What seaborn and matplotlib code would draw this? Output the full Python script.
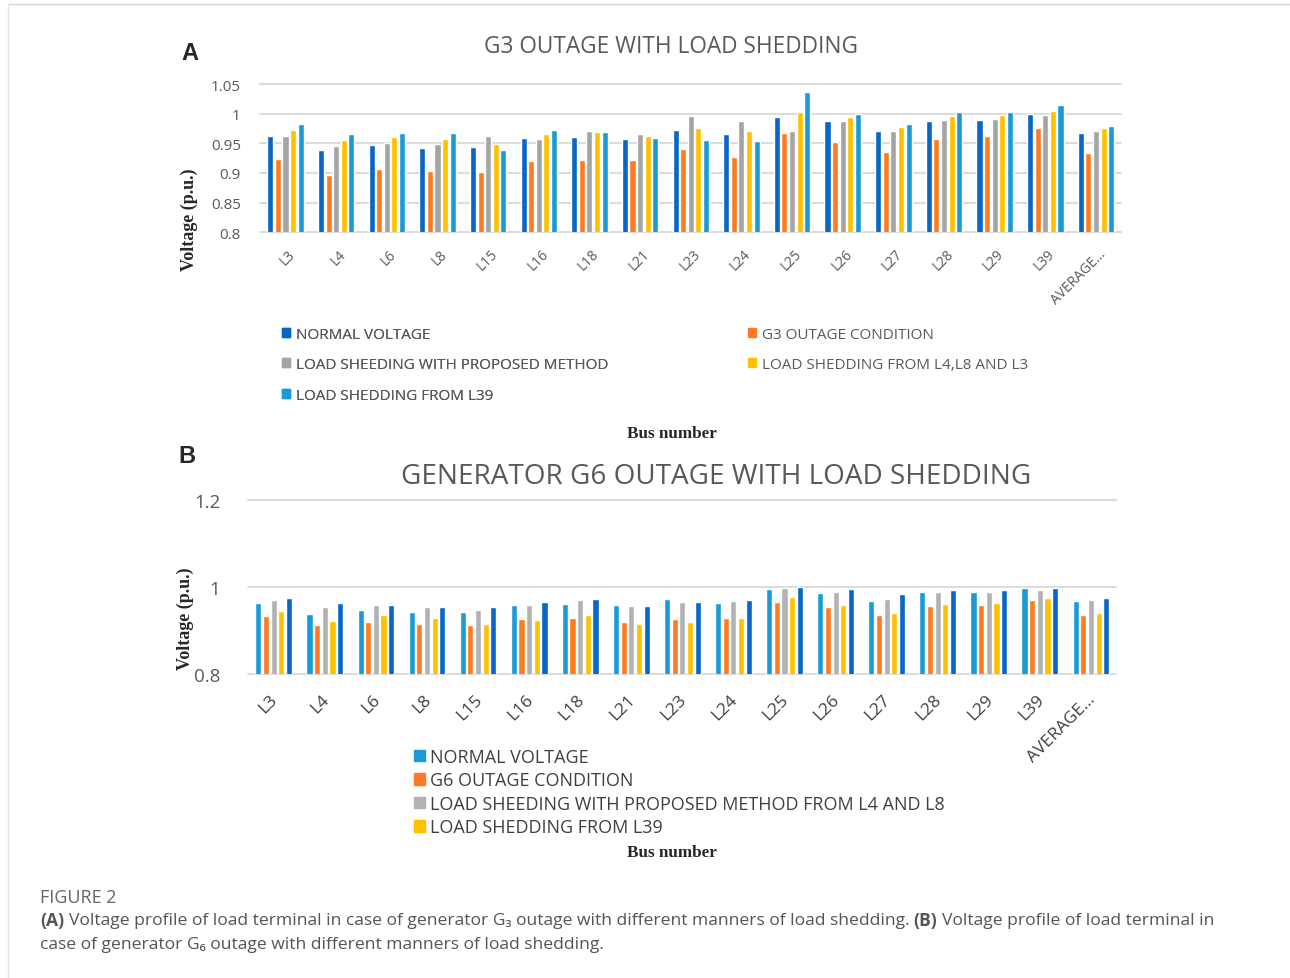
import numpy as np
import pandas as pd
import seaborn as sns
import matplotlib.pyplot as plt
import matplotlib.transforms as mtransforms
from matplotlib.patches import Patch

sns.set_style("white")
plt.rcParams['font.family'] = ['Open Sans', 'DejaVu Sans']

buses = ["L3", "L4", "L6", "L8", "L15", "L16", "L18", "L21", "L23", "L24",
         "L25", "L26", "L27", "L28", "L29", "L39", "AVERAGE..."]

# panel A : G3 outage
a_names = ["NORMAL VOLTAGE", "G3 OUTAGE CONDITION", "LOAD SHEEDING WITH PROPOSED METHOD",
           "LOAD SHEDDING FROM L4,L8 AND L3", "LOAD SHEDDING FROM L39"]
a_normal = [0.962, 0.939, 0.948, 0.942, 0.943, 0.959, 0.960, 0.957, 0.972, 0.965,
            0.994, 0.987, 0.970, 0.988, 0.989, 0.999, 0.967]
a_outage = [0.924, 0.897, 0.907, 0.904, 0.902, 0.921, 0.922, 0.922, 0.940, 0.927,
            0.968, 0.953, 0.935, 0.957, 0.962, 0.976, 0.933]
a_proposed = [0.963, 0.945, 0.951, 0.949, 0.962, 0.957, 0.971, 0.965, 0.996, 0.987,
              0.970, 0.988, 0.971, 0.989, 0.991, 0.997, 0.971]
a_l4l8l3 = [0.972, 0.956, 0.961, 0.958, 0.949, 0.965, 0.969, 0.962, 0.976, 0.970,
            1.003, 0.994, 0.977, 0.996, 0.997, 1.005, 0.976]
a_l39 = [0.983, 0.966, 0.968, 0.968, 0.939, 0.972, 0.969, 0.959, 0.956, 0.954,
         1.037, 1.000, 0.982, 1.002, 1.003, 1.015, 0.980]
a_colors = ["#0866C6", "#FF7A22", "#A5A5A5", "#FFC000", "#1A9BD7"]

# panel B : G6 outage (5th series not listed in the legend)
b_names = ["NORMAL VOLTAGE", "G6 OUTAGE CONDITION",
           "LOAD SHEEDING WITH PROPOSED METHOD FROM L4 AND L8", "LOAD SHEDDING FROM L39",
           "SERIES 5"]
b_normal = [0.963, 0.939, 0.948, 0.942, 0.944, 0.959, 0.961, 0.958, 0.972, 0.964,
            0.995, 0.986, 0.968, 0.988, 0.990, 0.998, 0.968]
b_outage = [0.934, 0.912, 0.921, 0.916, 0.913, 0.926, 0.930, 0.919, 0.928, 0.930,
            0.965, 0.954, 0.936, 0.957, 0.960, 0.970, 0.935]
b_proposed = [0.971, 0.955, 0.959, 0.955, 0.948, 0.959, 0.970, 0.957, 0.967, 0.969,
              0.998, 0.989, 0.973, 0.989, 0.990, 0.994, 0.971]
b_l39 = [0.946, 0.923, 0.935, 0.930, 0.916, 0.925, 0.937, 0.916, 0.921, 0.929,
         0.978, 0.960, 0.941, 0.961, 0.964, 0.975, 0.941]
b_fifth = [0.975, 0.964, 0.960, 0.955, 0.955, 0.965, 0.973, 0.957, 0.967, 0.970,
           1.001, 0.995, 0.984, 0.994, 0.994, 0.999, 0.975]
b_colors = ["#1A9BD7", "#FF7A22", "#B2B2B2", "#FFC000", "#0866C6"]

W, H = 1290, 979
GRAY = "#595959"


def long_df(names, series):
    return pd.DataFrame({
        "bus": np.tile(buses, len(names)),
        "series": np.repeat(names, len(buses)),
        "v": np.concatenate(series),
    })


def px(x, y):
    return x / W, 1 - y / H


fig = plt.figure(figsize=(W / 100, H / 100), dpi=100)

# ---------- panel A ----------
axA = fig.add_axes([260.2 / W, 1 - 233.3 / H, 861.1 / W, 148.3 / H])
dfA = long_df(a_names, [a_normal, a_outage, a_proposed, a_l4l8l3, a_l39])
sns.barplot(data=dfA, x="bus", y="v", hue="series", hue_order=a_names, palette=a_colors,
            saturation=1, width=0.75, gap=0.2, errorbar=None, legend=False, ax=axA)
axA.set_ylim(0.8, 1.05)
axA.set_yticks([0.8, 0.85, 0.9, 0.95, 1.0, 1.05])
axA.set_yticklabels(["0.8", "0.85", "0.9", "0.95", "1", "1.05"])
axA.tick_params(axis="y", labelsize=11, colors=GRAY, length=0, pad=14)
axA.set_xticks(range(len(buses)))
axA.set_xticklabels(buses, rotation=45, ha="right", rotation_mode="anchor")
axA.tick_params(axis="x", labelsize=10, colors=GRAY, length=0, pad=10)
offA = mtransforms.ScaledTranslation(2 / 100, 0, fig.dpi_scale_trans)
for lab in axA.get_xticklabels():
    lab.set_transform(lab.get_transform() + offA)

# ---------- panel B ----------
axB = fig.add_axes([248.2 / W, 1 - 675.3 / H, 868.3 / W, 174.3 / H])
dfB = long_df(b_names, [b_normal, b_outage, b_proposed, b_l39, b_fifth])
sns.barplot(data=dfB, x="bus", y="v", hue="series", hue_order=b_names, palette=b_colors,
            saturation=1, width=0.75, gap=0.2, errorbar=None, legend=False, ax=axB)
axB.set_ylim(0.8, 1.2)
axB.set_yticks([0.8, 1.0, 1.2])
axB.set_yticklabels(["0.8", "1", "1.2"])
axB.tick_params(axis="y", labelsize=13.5, colors=GRAY, length=0, pad=20)
axB.set_xticks(range(len(buses)))
axB.set_xticklabels(buses, rotation=45, ha="right", rotation_mode="anchor")
axB.tick_params(axis="x", labelsize=12.5, colors="#404040", length=0, pad=12)
offB = mtransforms.ScaledTranslation(-4 / 100, 0, fig.dpi_scale_trans)
for lab in axB.get_xticklabels():
    lab.set_transform(lab.get_transform() + offB)

for ax in (axA, axB):
    ax.set_xlabel("")
    ax.set_ylabel("")
    ax.set_xlim(-0.5, len(buses) - 0.5)
    ax.set_axisbelow(True)
    ax.yaxis.grid(True, color="#D9D9D9", linewidth=1.3)
    for gl in ax.yaxis.get_gridlines():
        gl.set_clip_on(False)
    sns.despine(ax=ax, left=True, bottom=True)

# ---------- titles / labels ----------
fig.text(*px(671, 47), "G3 OUTAGE WITH LOAD SHEDDING", ha="center", va="center",
         fontsize=16.3, color=GRAY)
fig.text(*px(716, 477), "GENERATOR G6 OUTAGE WITH LOAD SHEDDING", ha="center",
         va="center", fontsize=20.1, color=GRAY)
fig.text(*px(190, 54), "A", ha="center", va="center", fontsize=17, weight="bold",
         family=["Liberation Sans", "DejaVu Sans"])
fig.text(*px(187, 457), "B", ha="center", va="center", fontsize=17, weight="bold",
         family=["Liberation Sans", "DejaVu Sans"])

serif = ["Liberation Serif", "DejaVu Serif"]
fig.text(*px(189, 220), "Voltage (p.u.)", rotation=90, ha="center", va="center",
         fontsize=13, weight="bold", family=serif)
fig.text(*px(185, 619), "Voltage (p.u.)", rotation=90, ha="center", va="center",
         fontsize=13, weight="bold", family=serif)
fig.text(*px(672, 434), "Bus number", ha="center", va="center", fontsize=12.3,
         weight="bold", family=serif)
fig.text(*px(672, 853), "Bus number", ha="center", va="center", fontsize=12.3,
         weight="bold", family=serif)

# ---------- legends ----------
hA = [Patch(color=c) for c in a_colors]
legA1 = fig.legend([hA[0], hA[2], hA[4]], [a_names[0], a_names[2], a_names[4]],
                   loc="upper left", bbox_to_anchor=px(282, 328), frameon=False,
                   fontsize=11, labelcolor=GRAY, handlelength=0.55, handleheight=0.55,
                   handletextpad=0.35, labelspacing=1.0, borderpad=0, borderaxespad=0)
legA2 = fig.legend([hA[1], hA[3]], [a_names[1], a_names[3]],
                   loc="upper left", bbox_to_anchor=px(748, 328), frameon=False,
                   fontsize=11, labelcolor=GRAY, handlelength=0.55, handleheight=0.55,
                   handletextpad=0.35, labelspacing=1.0, borderpad=0, borderaxespad=0)
fig.add_artist(legA1)

hB = [Patch(color=c) for c in b_colors[:4]]
fig.legend(hB, b_names[:4], loc="upper left", bbox_to_anchor=px(414, 749), frameon=False,
           fontsize=13, labelcolor="#404040", handlelength=0.6, handleheight=0.6,
           handletextpad=0.3, labelspacing=0.3, borderpad=0, borderaxespad=0)

# ---------- caption ----------
cap = ["Open Sans", "Noto Sans", "DejaVu Sans"]
CAPSIZE = 12.6
fig.text(*px(40, 898), "FIGURE 2", ha="left", va="center", fontsize=13, color="#666666",
         family=cap)

renderer = fig.canvas.get_renderer()


def width_of(s, weight):
    t = fig.text(0, 0, s, fontsize=CAPSIZE, weight=weight, family=cap)
    w = t.get_window_extent(renderer=renderer).width
    t.remove()
    return w


space = width_of("a a", "normal") - width_of("aa", "normal")


def rich_line(x, y, pieces):
    for s, weight in pieces:
        t = fig.text(x / W, 1 - y / H, s, ha="left", va="center", fontsize=CAPSIZE,
                     weight=weight, color="#555555", family=cap)
        x += t.get_window_extent(renderer=renderer).width + space


rich_line(40, 921, [("(A)", "bold"),
                    ("Voltage profile of load terminal in case of generator G\u2083 outage "
                     "with different manners of load shedding.", "normal"),
                    ("(B)", "bold"),
                    ("Voltage profile of load terminal in", "normal")])
rich_line(40, 945, [("case of generator G\u2086 outage with different manners of load "
                     "shedding.", "normal")])

# thin page border
fig.add_artist(plt.Line2D([8 / W, 1], [1 - 5 / H, 1 - 5 / H], color="#D5D5D5", lw=1))
fig.add_artist(plt.Line2D([8 / W, 8 / W], [0, 1 - 5 / H], color="#E3E3E3", lw=1))

fig.savefig("out.png", dpi=100)
